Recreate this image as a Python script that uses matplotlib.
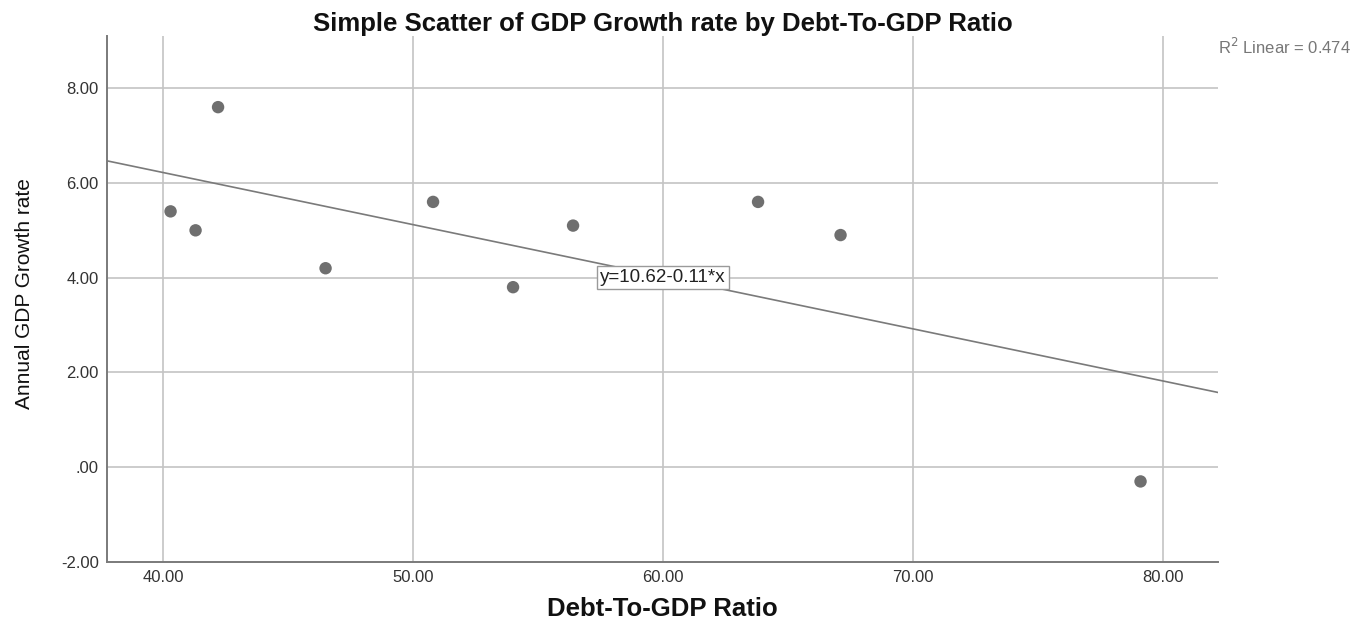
import matplotlib
matplotlib.use("Agg")
import matplotlib.pyplot as plt
import numpy as np

plt.rcParams['font.family'] = ['Liberation Sans', 'DejaVu Sans']

# Debt-to-GDP ratio (%) and annual GDP growth rate (%)
debt_ratio = [40.3, 41.3, 42.2, 46.5, 50.8, 54.0, 56.4, 63.8, 67.1, 79.1]
gdp_growth = [5.4, 5.0, 7.6, 4.2, 5.6, 3.8, 5.1, 5.6, 4.9, -0.3]

# Fitted linear model
intercept = 10.62
slope = -0.11
r_squared = 0.474

x_ticks = [40, 50, 60, 70, 80]
y_ticks = [-2, 0, 2, 4, 6, 8]
x_tick_labels = ["40.00", "50.00", "60.00", "70.00", "80.00"]
y_tick_labels = ["-2.00", ".00", "2.00", "4.00", "6.00", "8.00"]

fig = plt.figure(figsize=(13.57, 6.22), dpi=100)
ax = fig.add_axes([0.0789, 0.0965, 0.8187, 0.8455])

ax.set_xlim(37.76, 82.2)
ax.set_ylim(-2, 9.1)

grid_col = "#c4c4c4"
for xt in x_ticks:
    ax.axvline(xt, color=grid_col, lw=1.2, zorder=1)
for yt in y_ticks[1:]:
    ax.axhline(yt, color=grid_col, lw=1.2, zorder=1)

xs = np.array(ax.get_xlim())
ax.plot(xs, intercept + slope * xs, color="#7a7a7a", lw=1.2, zorder=2)

ax.scatter(debt_ratio, gdp_growth, s=80, color="#6f6f6f", edgecolors="none", zorder=3)

eq_label = f"y={intercept:.2f}-{abs(slope):.2f}*x"
ax.text(60.0, 4.0, eq_label,
        ha="center", va="center", fontsize=13.5, color="#222222", zorder=4,
        bbox=dict(boxstyle="square,pad=0.15", facecolor="white", edgecolor="#9a9a9a", lw=1.0))

ax.set_xticks(x_ticks)
ax.set_xticklabels(x_tick_labels)
ax.set_yticks(y_ticks)
ax.set_yticklabels(y_tick_labels)
ax.tick_params(length=0, labelsize=12, labelcolor="#333333", pad=6)

for side in ("top", "right"):
    ax.spines[side].set_visible(False)
for side in ("left", "bottom"):
    ax.spines[side].set_color("#7a7a7a")
    ax.spines[side].set_linewidth(1.4)

ax.set_title("Simple Scatter of GDP Growth rate by Debt-To-GDP Ratio",
             fontsize=18.5, fontweight="bold", pad=3, color="#111111")
ax.set_xlabel("Debt-To-GDP Ratio", fontsize=18.5, fontweight="bold", color="#111111")
ax.xaxis.set_label_coords(0.4995, -0.066)
ax.set_ylabel("Annual GDP Growth rate", fontsize=15, color="#111111")
ax.yaxis.set_label_coords(-0.0655, 0.5095)

fig.text(0.8976, 0.9244, f"R$^2$ Linear = {r_squared:.3f}", ha="left", va="center",
         fontsize=12, color="#777777")

fig.savefig("out.png", dpi=100, facecolor="white")
